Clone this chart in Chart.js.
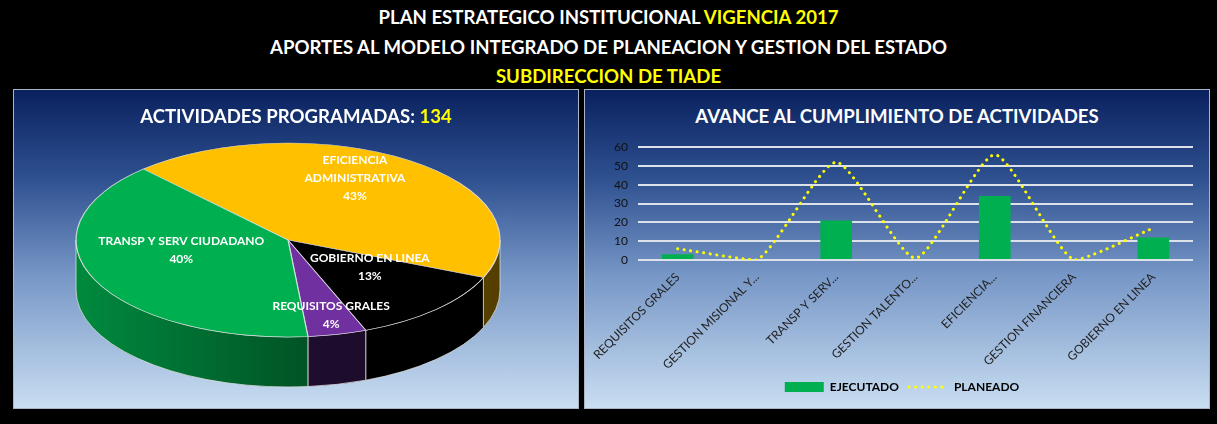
<!DOCTYPE html>
<html>
<head>
<meta charset="utf-8">
<script src="https://cdn.jsdelivr.net/npm/chart.js@4.4.1/dist/chart.umd.min.js"></script>
<style>
  html, body { margin: 0; padding: 0; background: #000; }
  body { width: 1217px; height: 424px; position: relative; overflow: hidden; font-family: Lato, 'Open Sans', sans-serif; }
  .head { position: absolute; left: 0; width: 1217px; text-align: center; color: #fff; font-weight: bold; font-size: 18.6px; line-height: 22px; }
  .yellow { color: #ffff00; }
  .panel { position: absolute; top: 89px; height: 318px; border: 1px solid #aab4c4;
           background: linear-gradient(to bottom, #0a215f 0%, #2f5190 28%, #7696c6 58%, #c9def2 100%); }
  .ptitle { position: absolute; left: 0; right: 0; top: 15px; text-align: center; color: #fff; font-weight: bold; font-size: 18.6px; line-height: 22px; }
  canvas { position: absolute; }
</style>
</head>
<body>
<div class="head" style="top:6px">PLAN ESTRATEGICO INSTITUCIONAL <span class="yellow">VIGENCIA 2017</span></div>
<div class="head" style="top:36px">APORTES AL MODELO INTEGRADO DE PLANEACION Y GESTION DEL ESTADO</div>
<div class="head yellow" style="top:65px">SUBDIRECCION DE TIADE</div>

<div class="panel" style="left:13px; width:564px">
  <canvas id="pieChart" width="564" height="318" style="left:0; top:0"></canvas>
  <div class="ptitle">ACTIVIDADES PROGRAMADAS: <span class="yellow">134</span></div>
</div>
<div class="panel" style="left:584px; width:624px">
  <div class="ptitle">AVANCE AL CUMPLIMIENTO DE ACTIVIDADES</div>
  <canvas id="barChart" width="624" height="278" style="left:0; top:40px"></canvas>
</div>

<script>
// pie: activities programmed per component
const pieLabels = ['EFICIENCIA\nADMINISTRATIVA', 'GOBIERNO EN LINEA', 'REQUISITOS GRALES', 'TRANSP Y SERV CIUDADANO'];
const pieValues = [58, 17, 6, 53];
const pieColors = ['#FFC000', '#000000', '#7030A0', '#00B050'];
const pieSideColors = ['#b88a00', '#000000', '#33154c', '#008a3e'];

// bars + line: progress per component
const categories = ['REQUISITOS GRALES', 'GESTION MISIONAL Y...', 'TRANSP Y SERV...', 'GESTION TALENTO...', 'EFICIENCIA...', 'GESTION FINANCIERA', 'GOBIERNO EN LINEA'];
const ejecutado = [3, 0, 21, 0, 34, 0, 12];
const planeado = [6, 0, 52, 1, 56, 0, 17];
const yTicks = [0, 10, 20, 30, 40, 50, 60];

// flat chart.js pie squashed into an ellipse, with a drawn rim underneath
const pie3d = {
    id: 'pie3d',
    beforeDatasetsDraw(chart, args, opts) {
        const ctx = chart.ctx;
        const arcs = chart.getDatasetMeta(0).data;
        const R = arcs[0].outerRadius;
        const k = opts.tilt, depth = opts.depth, tx = opts.cx, ty = opts.cy;
        arcs.forEach((arc, i) => {
            for (let n = -2; n <= 2; n++) {
                const lo = Math.max(arc.startAngle, 2 * Math.PI * n);
                const hi = Math.min(arc.endAngle, 2 * Math.PI * n + Math.PI);
                if (hi <= lo) continue;
                ctx.beginPath();
                ctx.ellipse(tx, ty, R, R * k, 0, lo, hi);
                ctx.ellipse(tx, ty + depth, R, R * k, 0, hi, lo, true);
                ctx.closePath();
                ctx.fillStyle = pieSideColors[i];
                ctx.fill();
                const g = ctx.createLinearGradient(tx - R, 0, tx + R, 0);
                g.addColorStop(0, 'rgba(0,0,0,0)');
                g.addColorStop(0.55, 'rgba(0,0,0,0.4)');
                g.addColorStop(1, 'rgba(0,0,0,0.55)');
                ctx.fillStyle = g;
                ctx.fill();
                ctx.strokeStyle = 'rgba(220,220,220,0.8)';
                ctx.lineWidth = 1;
                ctx.stroke();
            }
        });
        ctx.save();
        ctx.translate(tx, ty);
        ctx.scale(1, k);
        ctx.translate(-arcs[0].x, -arcs[0].y);
    },
    afterDatasetsDraw(chart, args, opts) {
        const ctx = chart.ctx;
        ctx.restore();
        const arcs = chart.getDatasetMeta(0).data;
        const R = arcs[0].outerRadius;
        const total = pieValues.reduce((s, v) => s + v, 0);
        // labels hang off the apex, which sits a little above the ellipse centre
        const ax = opts.cx, ay = opts.cy - 14;
        ctx.fillStyle = '#fff';
        ctx.font = 'bold 12px Lato';
        ctx.textAlign = 'center';
        ctx.textBaseline = 'middle';
        arcs.forEach((arc, i) => {
            const mid = (arc.startAngle + arc.endAngle) / 2;
            const frac = pieValues[i] / total;
            const r = frac < 0.06 ? 0.95 : 0.6;
            const x = ax + Math.cos(mid) * R * r * 0.92;
            const y = ay + Math.sin(mid) * R * opts.tilt * r;
            const lines = pieLabels[i].split('\n').concat(Math.round(frac * 100) + '%');
            const lh = 18;
            lines.forEach((t, j) => {
                ctx.fillText(t, x, y + (j - (lines.length - 1) / 2) * lh);
            });
        });
    }
};

new Chart(document.getElementById('pieChart'), {
    type: 'pie',
    data: {
        labels: pieLabels,
        datasets: [{
            data: pieValues,
            backgroundColor: pieColors,
            borderColor: 'rgba(225,225,225,0.9)',
            borderWidth: 1.2,
            radius: 212
        }]
    },
    options: {
        responsive: false,
        animation: false,
        events: [],
        rotation: -43,
        plugins: {
            legend: { display: false },
            tooltip: { enabled: false },
            pie3d: { cx: 274, cy: 150, tilt: 0.4575, depth: 50 }
        }
    },
    plugins: [pie3d]
});

new Chart(document.getElementById('barChart'), {
    type: 'bar',
    data: {
        labels: categories,
        datasets: [
            {
                type: 'bar',
                label: 'EJECUTADO',
                data: ejecutado,
                backgroundColor: '#00B050',
                barPercentage: 0.4,
                categoryPercentage: 1,
                pointStyle: 'rect'
            },
            {
                type: 'line',
                label: 'PLANEADO',
                data: planeado,
                borderColor: '#FFFF00',
                borderWidth: 3,
                borderDash: [0.1, 6.5],
                borderCapStyle: 'round',
                pointRadius: 0,
                tension: 0.2,
                fill: false,
                pointStyle: 'line'
            }
        ]
    },
    options: {
        responsive: false,
        animation: false,
        events: [],
        layout: { padding: { left: 26, right: 16, top: 15, bottom: 5 } },
        scales: {
            x: {
                grid: { display: false },
                border: { display: false },
                ticks: { color: '#222', font: { family: 'Lato', size: 12 }, minRotation: 45, maxRotation: 45, padding: 2 },
                afterFit(s) { s.height = 111; }
            },
            y: {
                min: yTicks[0],
                max: yTicks[yTicks.length - 1],
                afterBuildTicks(s) { s.ticks = yTicks.map(v => ({ value: v })); },
                ticks: { color: '#111', font: { family: 'Lato', size: 12 }, padding: 10 },
                grid: { color: '#dde2ea', lineWidth: 2, drawTicks: false },
                border: { display: false },
                afterFit(s) { s.width = 27; }
            }
        },
        plugins: {
            legend: {
                position: 'bottom',
                labels: {
                    usePointStyle: true,
                    pointStyleWidth: 39,
                    boxHeight: 10,
                    color: '#000',
                    font: { family: 'Lato', size: 12, weight: 'bold' },
                    padding: 10,
                    generateLabels(chart) {
                        const items = Chart.defaults.plugins.legend.labels.generateLabels(chart);
                        items.forEach(item => {
                            const ds = chart.data.datasets[item.datasetIndex];
                            if (ds.type === 'line') {
                                item.lineDash = ds.borderDash;
                                item.lineCap = ds.borderCapStyle;
                                item.lineWidth = ds.borderWidth;
                                item.strokeStyle = ds.borderColor;
                            }
                        });
                        return items;
                    }
                }
            },
            tooltip: { enabled: false }
        }
    }
});
</script>
</body>
</html>
